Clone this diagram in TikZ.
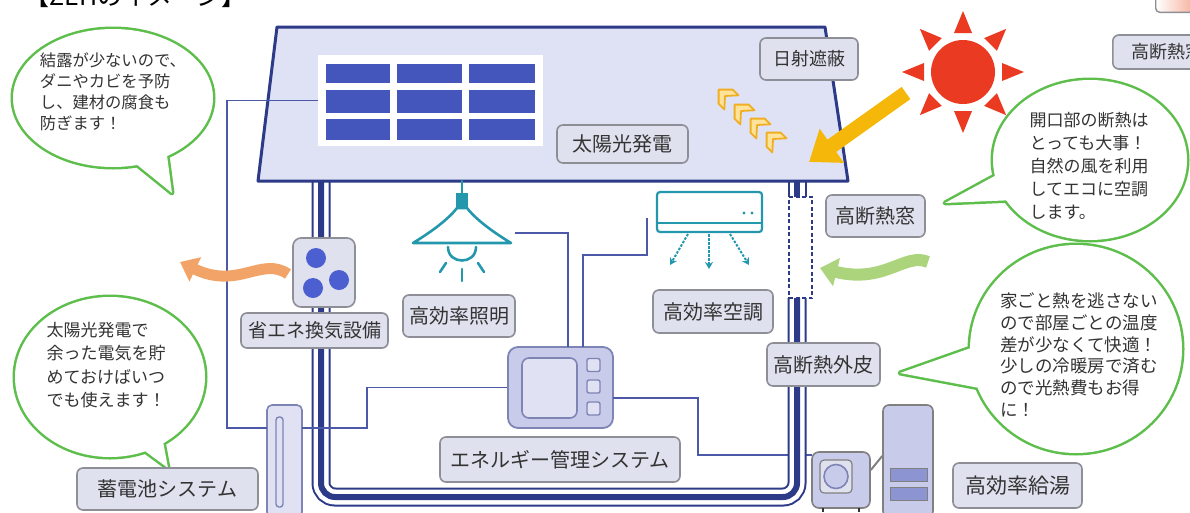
\documentclass[tikz,border=0pt]{standalone}
\usepackage{fontspec}
\setmainfont{Noto Sans CJK JP}
\usetikzlibrary{arrows.meta,calc}

\definecolor{roofFill}{HTML}{DFE2F4}
\definecolor{navy}{HTML}{2C3A88}
\definecolor{cellBlue}{HTML}{4455BB}
\definecolor{lblFill}{HTML}{DFE1EE}
\definecolor{lblLine}{HTML}{8E8E96}
\definecolor{wireBlue}{HTML}{4C58A8}
\definecolor{lampTeal}{HTML}{2397AC}
\definecolor{bubbleGreen}{HTML}{5DBE4B}
\definecolor{txt}{HTML}{333333}
\definecolor{sunRed}{HTML}{EA3A22}
\definecolor{sunYellow}{HTML}{F5B70A}
\definecolor{devFill}{HTML}{C8CCEA}
\definecolor{devLine}{HTML}{7E84B4}
\definecolor{screenFill}{HTML}{E0E2F4}
\definecolor{warmOrange}{HTML}{F2A468}
\definecolor{leafGreen}{HTML}{ABD47C}
\definecolor{chevOrange}{HTML}{F0AE22}
\definecolor{chevYellow}{HTML}{FFE39A}
\definecolor{fanBlue}{HTML}{4C5FD0}
\definecolor{barBlue}{HTML}{8C95D2}
\definecolor{salmonTone}{HTML}{F29A7E}

\begin{document}
\begin{tikzpicture}[x=1pt, y=-1pt,
  lbl/.style={draw=lblLine, fill=lblFill, line width=1.6pt, rounded corners=6pt,
    inner sep=0pt, text=txt, font=\fontsize{20}{24}\selectfont},
  wire/.style={draw=wireBlue, line width=1.2pt},
  btxt/.style={align=left, text=txt, inner sep=0pt},
  bline/.style={draw=bubbleGreen, line width=5pt, line join=round},
  dev/.style={draw=devLine, fill=devFill, line width=1.8pt, inner sep=0pt},
  icon/.style={draw=lampTeal, line width=2.6pt, line cap=round},
  chev/.style={draw=chevOrange, fill=chevYellow, line width=1.8pt, line join=round},
]
\useasboundingbox (0,0) rectangle (1190,512);

% heading
\node[anchor=base west, inner sep=0pt, font=\fontsize{25}{30}\selectfont] (title) at (24,5) {【ZEHのイメージ】};

% partial items at the upper right edge
\node[draw=lblLine, line width=1.4pt, rounded corners=4pt, left color=white, right color=salmonTone,
  minimum width=50, minimum height=40, anchor=south west, inner sep=0pt] (corner) at (1155,13) {};
\node[lbl, anchor=west, minimum width=110, minimum height=34, font=\fontsize{18}{22}\selectfont] (winTop) at (1112,52) {高断熱窓};

% speech bubbles: outline first, then white interior
\path[bline] (113,98) ellipse [x radius=100, y radius=69];
\path[bline] (125,155) -- (172,193) -- (165,140) -- cycle;
\fill[white] (113,98) ellipse [x radius=100, y radius=69];
\fill[white] (125,155) -- (172,193) -- (165,140) -- cycle;
\node[btxt, font=\fontsize{16.3}{21}\selectfont] (b1) at (113,92)
  {結露が少ないので、\\ダニやカビを予防\\し、建材の腐食も\\防ぎます！};

\path[bline] (1090,160) ellipse [x radius=97, y radius=80];
\path[bline] (1002,172) -- (945,203) -- (1015,200) -- cycle;
\fill[white] (1090,160) ellipse [x radius=97, y radius=80];
\fill[white] (1002,172) -- (945,203) -- (1015,200) -- cycle;
\node[btxt, font=\fontsize{17}{23}\selectfont] (b2) at (1089,166)
  {開口部の断熱は\\とっても大事！\\自然の風を利用\\してエコに空調\\します。};

\path[bline] (1076,349) ellipse [x radius=106, y radius=104];
\path[bline] (985,343) -- (900,373) -- (990,390) -- cycle;
\fill[white] (1076,349) ellipse [x radius=106, y radius=104];
\fill[white] (985,343) -- (900,373) -- (990,390) -- cycle;
\node[btxt, font=\fontsize{17.5}{21.8}\selectfont] (b3) at (1079,355)
  {家ごと熱を逃さない\\ので部屋ごとの温度\\差が少なくて快適！\\少しの冷暖房で済む\\ので光熱費もお得\\に！};

\path[bline] (110,377) ellipse [x radius=95, y radius=80];
\path[bline] (130,440) -- (168,468) -- (160,425) -- cycle;
\fill[white] (110,377) ellipse [x radius=95, y radius=80];
\fill[white] (130,440) -- (168,468) -- (160,425) -- cycle;
\node[btxt, font=\fontsize{17}{23.5}\selectfont] (b4) at (106,365)
  {太陽光発電で\\余った電気を貯\\めておけばいつ\\でも使えます！};

% devices that the wiring reaches
\node[dev, rounded corners=10pt, minimum width=105, minimum height=81] (ems) at (560.5,387.5) {};
\node[draw=gray, fill=devFill, line width=1.6pt, rounded corners=7pt, minimum width=58, minimum height=56, inner sep=0pt] (hpu) at (841,480) {};
\node[draw=devLine, fill=screenFill, line width=1.6pt, rounded corners=5pt, minimum width=35, minimum height=112, inner sep=0pt] (batt) at (284.5,461) {};

\coordinate (emsE) at (613,398);
\coordinate (hpuW) at (812,455);
\draw[wire] (emsE) -- (698,398) |- (hpuW);

% house walls
\foreach \w/\c in {19/navy, 15/white, 6/navy}{
  \draw[\c, line width=\w pt, rounded corners=14pt] (321,181) -- (321,497) -- (797,497) -- (797,298);
  \draw[\c, line width=\w pt] (797,181) -- (797,197);
}
\node[draw=navy, line width=1.8pt, dash pattern=on 4pt off 2.5pt, fill=white, minimum width=23, minimum height=101, inner sep=0pt] (win) at (800.5,247.5) {};

% roof and solar array
\draw[navy, line width=3pt, fill=roofFill, line join=round] (277,27) -- (825,27) -- (848,181) -- (258,181) -- cycle;
\node[fill=white, minimum width=225, minimum height=91, inner sep=0pt] (panel) at (430.5,100.5) {};
\foreach \xa/\xb in {326/390, 397/462, 469/535}
  \foreach \ya/\yb in {64/83, 90/113, 119/140}
    \fill[cellBlue] (\xa,\ya) rectangle (\xb,\yb);
\node[lbl, minimum width=131, minimum height=38] (solar) at (622.5,144) {太陽光発電};
\node[lbl, minimum width=98, minimum height=42, font=\fontsize{18}{22}\selectfont] (shade) at (809,59) {日射遮蔽};
\foreach \cx/\cy in {725/96, 741/111, 757/125, 773/139}
  \draw[chev, shift={(\cx,\cy)}, rotate=-45] (-9,0) -- (1,-10) -- (9,-10) -- (0,0) -- (9,10) -- (1,10) -- cycle;

% sun and sunlight
\fill[sunRed] (963,72) circle [radius=32];
\foreach \a in {0,45,...,315}
  \fill[sunRed, rotate around={\a:(963,72)}] (963,11) -- (972,33) -- (954,33) -- cycle;
\coordinate (sa) at (906,93);
\coordinate (sb) at (809,162);
\draw[sunYellow, line width=15pt, -{Triangle[width=40pt,length=28pt]}] (sa) -- (sb);

% wiring
\coordinate (battL) at (267,428);
\coordinate (battR) at (302,428);
\coordinate (lampR) at (515,233);
\coordinate (emsN1) at (568,347);
\coordinate (acL) at (647,218);
\coordinate (emsN2) at (583,347);
\draw[wire] (panel.west) -- (227,100.5) |- (battL);
\draw[wire] (battR) -- (367,428) |- (ems.west);
\draw[wire] (lampR) -| (emsN1);
\draw[wire] (acL) -- (647,255) -| (emsN2);

% energy management unit
\node[draw=devLine, fill=screenFill, line width=1.6pt, rounded corners=7pt, minimum width=55, minimum height=60, inner sep=0pt] (scr) at (549.5,388) {};
\foreach \by [count=\i] in {365, 386.5, 408.5}
  \node[draw=devLine, fill=screenFill, line width=1.4pt, rounded corners=2pt, minimum width=13, minimum height=13, inner sep=0pt] (btn\i) at (593.5,\by) {};
\node[lbl, minimum width=240, minimum height=45] (emsLbl) at (560,459.5) {エネルギー管理システム};

% battery
\node[draw=devLine, fill=screenFill, line width=1.4pt, rounded corners=3pt, minimum width=7, minimum height=90, inner sep=0pt] (slot) at (279.5,462) {};
\node[lbl, minimum width=181, minimum height=42] (battLbl) at (167.5,489) {蓄電池システム};

% ventilation fan
\node[draw=lblLine, fill=lblFill, line width=1.6pt, rounded corners=8pt, minimum width=62, minimum height=69, inner sep=0pt] (fan) at (324,272.5) {};
\fill[fanBlue] (316,258) circle [radius=10];
\fill[fanBlue] (313,288) circle [radius=10];
\fill[fanBlue] (339,280) circle [radius=10];
\node[lbl, minimum width=147, minimum height=35, font=\fontsize{19}{23}\selectfont] (fanLbl) at (314.5,330.5) {省エネ換気設備};

% pendant lamp
\draw[icon] (462,181) -- (462,195);
\fill[lampTeal] (456,193) rectangle (468,208);
\draw[icon, fill=white, line join=round] (457,208) .. controls (446,222) and (426,235) .. (413,243) -- (511,243) .. controls (498,235) and (478,222) .. (467,208) -- cycle;
\draw[icon] (448,247) .. controls (448,265) and (476,265) .. (476,247);
\draw[icon] (446,263) -- (440,272);
\draw[icon] (462,269) -- (462,281);
\draw[icon] (478,263) -- (484,272);
\node[lbl, minimum width=112, minimum height=42] (lampLbl) at (459,316) {高効率照明};

% air conditioner
\node[draw=lampTeal, line width=2.2pt, fill=white, rounded corners=3pt, minimum width=105, minimum height=40, inner sep=0pt] (ac) at (709.5,212) {};
\draw[lampTeal, line width=1.8pt] ($(ac.south west)+(0,-10)$) -- ($(ac.south east)+(0,-10)$);
\fill[lampTeal] (744,213) circle [radius=1.7];
\fill[lampTeal] (752,213) circle [radius=1.7];
\foreach \sx/\ex/\ey in {688/670/265, 709/709/269, 730/749/265}
  \draw[lampTeal, line width=2pt, dash pattern=on 2.5pt off 1.5pt, -{Stealth[length=7pt,width=8pt]}] (\sx,234) -- (\ex,\ey);
\node[lbl, minimum width=120, minimum height=43] (acLbl) at (713,311.5) {高効率空調};

% envelope labels
\node[lbl, minimum width=99, minimum height=42] (winLbl) at (875.5,216) {高断熱窓};
\node[lbl, minimum width=113, minimum height=43] (skinLbl) at (823.5,364.5) {高断熱外皮};

% water heater
\fill[lblFill, draw=gray, line width=1.2pt, rounded corners=4pt] (820,460) rectangle (852,493);
\draw[devLine, fill=devFill, line width=1.6pt] (836,476.5) circle [radius=12];
\draw[txt, line width=2pt] (823,508) -- (823,512);
\draw[txt, line width=2pt] (859,508) -- (859,512);
\node[draw=gray, fill=devFill, line width=1.6pt, rounded corners=6pt, minimum width=50, minimum height=112, inner sep=0pt] (tank) at (908,461) {};
\draw[gray, line width=2pt] ($(hpu.east)+(0,-10)$) -- ($(tank.west)+(0,-5)$);
\fill[barBlue, draw=gray, line width=1pt] (890,468) rectangle (927,481);
\fill[barBlue, draw=gray, line width=1pt] (890,487) rectangle (927,500);
\node[lbl, minimum width=129, minimum height=45, font=\fontsize{21}{25}\selectfont] (heatLbl) at (1017.5,485.5) {高効率給湯};

% air flow arrows
\draw[warmOrange, line width=11pt, -{Triangle[width=26pt,length=17pt]}] (288,274) .. controls (262,256) and (238,290) .. (180,262);
\draw[leafGreen, line width=12pt, -{Triangle[width=28pt,length=17pt]}] (928,262) .. controls (905,252) and (885,284) .. (820,268);
\end{tikzpicture}
\end{document}
